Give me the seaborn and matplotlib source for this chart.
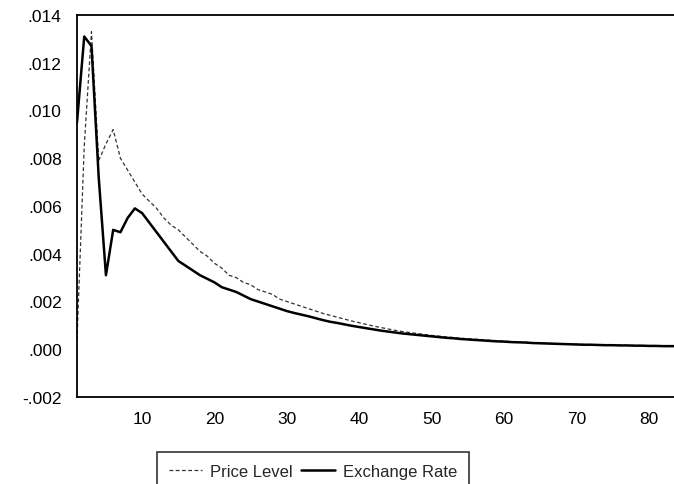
import matplotlib
matplotlib.use('Agg')

import pandas as pd
import matplotlib.pyplot as plt
import seaborn as sns
from matplotlib.ticker import FuncFormatter

# -----------------------------
# DATA
# -----------------------------
periods = list(range(1, 85))

price_level = [
    0.0004, 0.0085, 0.0133, 0.0079, 0.0086, 0.0092, 0.0080, 0.0075, 0.0070, 0.0065,
    0.0062, 0.0059, 0.0055, 0.0052, 0.0050, 0.0047, 0.0044, 0.0041, 0.0039, 0.0036,
    0.0034, 0.0031, 0.0030, 0.0028, 0.0027, 0.0025, 0.0024, 0.0023, 0.0021, 0.0020,
    0.0019, 0.0018, 0.0017, 0.0016, 0.0015, 0.00142, 0.00134, 0.00126, 0.00118, 0.00111,
    0.00104, 0.00097, 0.00091, 0.00085, 0.00079, 0.00074, 0.00070, 0.00066, 0.00062, 0.00058,
    0.00055, 0.00052, 0.00049, 0.00046, 0.00044, 0.00042, 0.00040, 0.00038, 0.00036, 0.00034,
    0.00032, 0.00030, 0.00029, 0.00027, 0.00026, 0.00025, 0.00024, 0.00023, 0.00022, 0.00021,
    0.00020, 0.00019, 0.00019, 0.00018, 0.00017, 0.00017, 0.00016, 0.00016, 0.00015, 0.00015,
    0.00014, 0.00014, 0.00014, 0.00013,
]

exchange_rate = [
    0.0095, 0.0131, 0.0127, 0.0072, 0.0031, 0.0050, 0.0049, 0.0055, 0.0059, 0.0057,
    0.0053, 0.0049, 0.0045, 0.0041, 0.0037, 0.0035, 0.0033, 0.0031, 0.00295, 0.0028,
    0.0026, 0.0025, 0.0024, 0.00225, 0.0021, 0.0020, 0.0019, 0.0018, 0.0017, 0.0016,
    0.00152, 0.00145, 0.00138, 0.0013, 0.00122, 0.00115, 0.0011, 0.00104, 0.00098, 0.00093,
    0.00088, 0.00083, 0.00078, 0.00074, 0.00070, 0.00066, 0.00063, 0.00060, 0.00057, 0.00054,
    0.00051, 0.00048, 0.00046, 0.00043, 0.00041, 0.00039, 0.00037, 0.00035, 0.00033, 0.00032,
    0.00030, 0.00029, 0.00028, 0.00026, 0.00025, 0.00024, 0.00023, 0.00022, 0.00021, 0.00020,
    0.00019, 0.00019, 0.00018, 0.00017, 0.00017, 0.00016, 0.00016, 0.00015, 0.00015, 0.00014,
    0.00014, 0.00013, 0.00013, 0.00013,
]

x_ticks = [10, 20, 30, 40, 50, 60, 70, 80]
y_ticks = [-0.002, 0.000, 0.002, 0.004, 0.006, 0.008, 0.010, 0.012, 0.014]

df = pd.DataFrame({"Period": periods,
                   "Price Level": price_level,
                   "Exchange Rate": exchange_rate})

# -----------------------------
# PLOT
# -----------------------------
sns.set_style("white")
plt.rcParams['font.family'] = ['Liberation Sans', 'DejaVu Sans']

fig = plt.figure(figsize=(6.74, 4.85), dpi=100)
ax = fig.add_axes([77 / 674, 1 - 398 / 485, 1 - 77 / 674, (398 - 16) / 485])

sns.lineplot(data=df, x="Period", y="Price Level", ax=ax, color="#333333",
             linewidth=0.9, linestyle=(0, (3, 2)), label="Price Level")
sns.lineplot(data=df, x="Period", y="Exchange Rate", ax=ax, color="black",
             linewidth=1.8, label="Exchange Rate")

ax.set_xlim(1, 83.5)
ax.set_ylim(-0.002, 0.014)
ax.set_xticks(x_ticks)
ax.set_yticks(y_ticks)
ax.yaxis.set_major_formatter(FuncFormatter(
    lambda v, p: ("-" if v < -1e-12 else "") + f"{abs(v):.3f}".lstrip("0")))
ax.set_xlabel("")
ax.set_ylabel("")
ax.tick_params(axis="both", direction="out", length=7, width=1.2,
               labelsize=12.5, colors="black", pad=3)
ax.tick_params(axis="y", length=8)

for side in ["left", "bottom", "top"]:
    ax.spines[side].set_color("black")
    ax.spines[side].set_linewidth(1.3)
ax.spines["right"].set_visible(False)

# legend box below the plot, its lower edge runs off the picture
leg = ax.legend(loc="upper left", bbox_to_anchor=(157 / 674, 1 - 453 / 485),
                bbox_transform=fig.transFigure, ncol=2, frameon=True,
                fancybox=False, borderaxespad=0, fontsize=12,
                borderpad=0.7, handlelength=2.0, columnspacing=0.5,
                handletextpad=0.5)
leg.get_frame().set_edgecolor("black")
leg.get_frame().set_linewidth(1.2)

plt.savefig("out.png", dpi=100)
plt.close()
